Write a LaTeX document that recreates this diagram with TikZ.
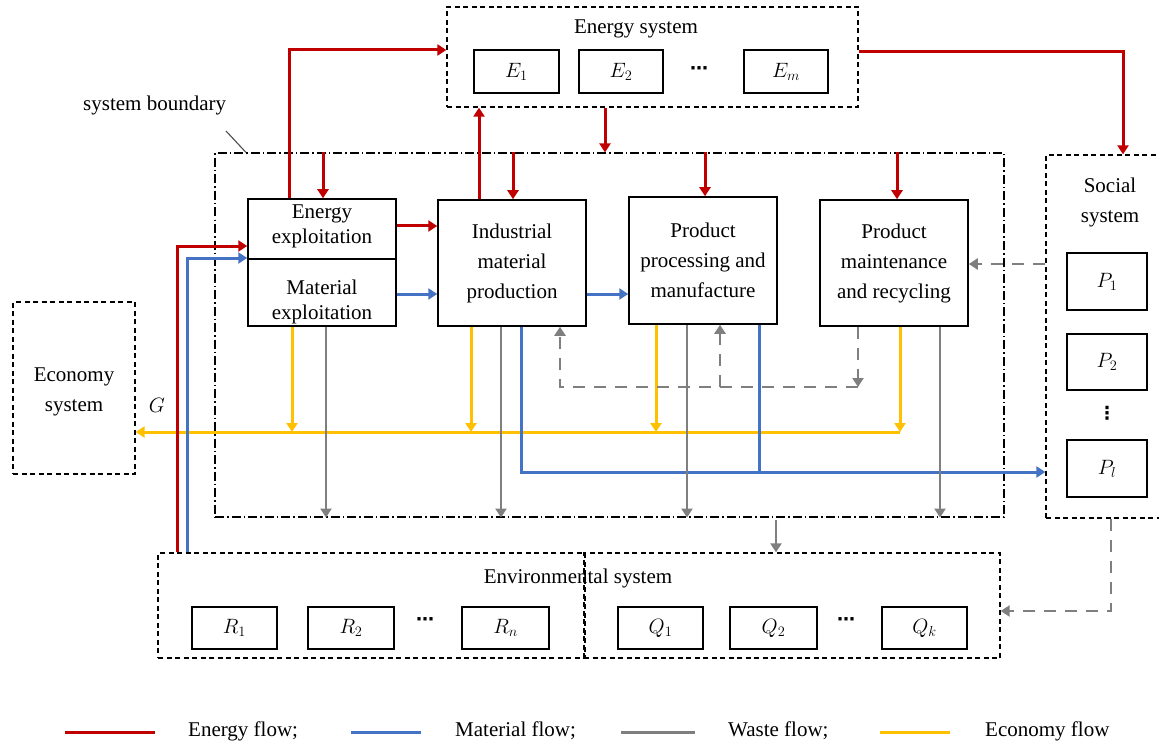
\documentclass[tikz,border=0pt]{standalone}
\usepackage{fontspec}
\setmainfont{Liberation Serif}
\newfontfamily\dejavu{DejaVu Sans}
\usetikzlibrary{arrows.meta}
\definecolor{ered}{HTML}{C00000}
\definecolor{eblue}{HTML}{4472C4}
\definecolor{egray}{HTML}{7F7F7F}
\definecolor{eyel}{HTML}{FFC000}
\begin{document}
\begin{tikzpicture}[x=1pt,y=-1pt,
  txt/.style={font=\fontsize{21}{30}\selectfont, align=center, inner sep=0pt},
  dots/.style={font=\dejavu\bfseries\fontsize{18}{20}\selectfont, inner sep=0pt},
  box/.style={draw, line width=1.5pt, inner sep=0pt},
  dbox/.style={draw, line width=1.3pt, dash pattern=on 5pt off 3.5pt, inner sep=0pt},
  bound/.style={draw, line width=1.1pt, dash pattern=on 9pt off 3pt on 1.5pt off 3pt, inner sep=0pt},
  tip/.style={-{Triangle[length=9pt,width=11pt]}},
  redf/.style={draw=ered, line width=3pt},
  bluef/.style={draw=eblue, line width=3pt},
  grayf/.style={draw=egray, line width=2.7pt},
  yelf/.style={draw=eyel, line width=3pt},
  grayd/.style={draw=egray, line width=2.8pt, dash pattern=on 12pt off 9pt},
  mathbox/.style={box, font=\fontsize{21}{25}\selectfont, minimum height=43pt},
]
\useasboundingbox (0,0) rectangle (1159,746);

% ---------------- Energy system ----------------
\node[dbox, minimum width=411pt, minimum height=100pt] (es) at (652.5,57) {};
\node[txt] (estitle) at (636,29) {Energy system};
\node[mathbox, minimum width=85pt] (e1) at (516.5,71.5) {$E_1$};
\node[mathbox, minimum width=84pt] (e2) at (621,71.5) {$E_2$};
\node[dots] (edots) at (699,71) {⋯};
\node[mathbox, minimum width=84pt] (em) at (786,71.5) {$E_m$};

% ---------------- System boundary ----------------
\node[bound, minimum width=789pt, minimum height=364pt] (sb) at (609.5,335) {};
\node[txt, anchor=west] (sblabel) at (83,105) {system boundary};
\coordinate (lead) at (226,131);
\draw[line width=1.1pt, draw=black!70] (lead) -- (sb.north -| 246,0);

% ---------------- Process boxes ----------------
\node[box, minimum width=148pt, minimum height=127pt] (ee) at (322,262.5) {};
\draw[line width=1.5pt] (ee.west |- 0,259) -- (ee.east |- 0,259);
\node[txt, font=\fontsize{21}{25}\selectfont] (eet) at (322,226) {Energy\\exploitation};
\node[txt, font=\fontsize{21}{25}\selectfont] (met) at (322,302) {Material\\exploitation};

\node[box, minimum width=148pt, minimum height=126pt, txt] (ind) at (512,263) {Industrial\\material\\production};
\node[box, minimum width=148pt, minimum height=127pt, txt] (ppm) at (703,260.5) {Product\\processing and\\manufacture};
\node[box, minimum width=148pt, minimum height=126pt, txt] (pmr) at (894,263) {Product\\maintenance\\and recycling};

% ---------------- Economy system ----------------
\node[dbox, minimum width=122pt, minimum height=172pt] (eco) at (74,388) {};
\node[txt] (ecot) at (74,392) {Economy\\system};
\node[font=\fontsize{20}{24}\selectfont, inner sep=0pt] (glab) at (157,405) {$G$};

% ---------------- Social system ----------------
\node[dbox, minimum width=124pt, minimum height=363pt] (soc) at (1108,336.5) {};
\node[txt] (soct) at (1110,202) {Social\\system};
\node[mathbox, minimum width=80pt, minimum height=57pt] (p1) at (1107,281.5) {$P_1$};
\node[mathbox, minimum width=80pt, minimum height=56pt] (p2) at (1107,362) {$P_2$};
\node[dots] (pdots) at (1107,413) {⋮};
\node[mathbox, minimum width=80pt, minimum height=57pt] (pl) at (1107,468.5) {$P_l$};

% ---------------- Environmental system ----------------
\node[dbox, minimum width=427pt, minimum height=105pt] (envL) at (371.5,605.5) {};
\node[dbox, minimum width=416pt, minimum height=105pt] (envR) at (792,605.5) {};
\node[txt] (envt) at (578,578) {Environmental system};
\node[mathbox, minimum width=85pt, minimum height=42pt] (r1) at (234.5,628) {$R_1$};
\node[mathbox, minimum width=86pt, minimum height=42pt] (r2) at (351,628) {$R_2$};
\node[dots] (rdots) at (425,622) {⋯};
\node[mathbox, minimum width=87pt, minimum height=42pt] (rn) at (505.5,628) {$R_n$};
\node[mathbox, minimum width=85pt, minimum height=42pt] (q1) at (660.5,628) {$Q_1$};
\node[mathbox, minimum width=87pt, minimum height=42pt] (q2) at (773.5,628) {$Q_2$};
\node[dots] (qdots) at (846,622) {⋯};
\node[mathbox, minimum width=85pt, minimum height=42pt] (qk) at (924.5,628) {$Q_k$};

% ---------------- Economy flows (yellow) ----------------
\coordinate (yend) at (900,432);
\draw[yelf, tip] (yend) -- (eco.east |- yend);
\draw[yelf, tip] (ee.south -| 292,0) -- (292,432);
\draw[yelf, tip] (ind.south -| 471,0) -- (471,432);
\draw[yelf, tip] (ppm.south -| 656,0) -- (656,432);
\draw[yelf, tip] (pmr.south -| 900,0) -- (yend);

% ---------------- Material flows (blue) ----------------
\draw[bluef, tip] (envL.north -| 187,0) |- (ee.west |- 0,258);
\draw[bluef, tip] (ee.east |- 0,294) -- (ind.west |- 0,294);
\draw[bluef, tip] (ind.east |- 0,294) -- (ppm.west |- 0,294);
\draw[bluef, tip] (ind.south -| 521,0) |- (soc.west |- 0,472);
\coordinate (bj) at (759,472);
\draw[bluef] (ppm.south -| bj) -- (bj);

% ---------------- Waste flows (gray) ----------------
\draw[grayf, tip] (ee.south -| 326,0) -- (sb.south -| 326,0);
\draw[grayf, tip] (ind.south -| 501,0) -- (sb.south -| 501,0);
\draw[grayf, tip] (ppm.south -| 687,0) -- (sb.south -| 687,0);
\draw[grayf, tip] (pmr.south -| 940,0) -- (sb.south -| 940,0);
\draw[grayf, tip] ([yshift=-2pt]sb.south -| 776,0) -- (envR.north -| 776,0);

% gray dashed
\coordinate (dr) at (858,387);
\coordinate (dm) at (720,387);
\draw[grayd, tip] (pmr.south -| dr) -- (dr);
\draw[grayd, tip] (dr) -| (ind.south -| 560,0);
\draw[grayd, tip] (dm) -- (ppm.south -| dm);
\draw[grayd, tip] (soc.west |- 0,264) -- (pmr.east |- 0,264);
\draw[grayd, tip] (soc.south -| 1111,0) |- (envR.east |- 0,611);

% ---------------- Energy flows (red) ----------------
\draw[redf, tip] (envL.north -| 177,0) |- (ee.west |- 0,246);
\draw[redf, tip] (ee.north -| 289,0) |- (es.west |- 0,50);
\draw[redf, tip] (ind.north -| 479,0) -- (es.south -| 479,0);
\draw[redf, tip] (es.south -| 605,0) -- (sb.north -| 605,0);
\draw[redf, tip] (sb.north -| 323,0) -- (ee.north -| 323,0);
\draw[redf, tip] (sb.north -| 513,0) -- (ind.north -| 513,0);
\draw[redf, tip] (sb.north -| 705,0) -- (ppm.north -| 705,0);
\draw[redf, tip] (sb.north -| 897,0) -- (pmr.north -| 897,0);
\draw[redf, tip] (es.east |- 0,52) -| (soc.north -| 1123,0);
\draw[redf, tip] (ee.east |- 0,226) -- (ind.west |- 0,226);

% ---------------- Legend ----------------
\coordinate (l1a) at (65,732); \coordinate (l1b) at (155,732);
\coordinate (l2a) at (351,732); \coordinate (l2b) at (421,732);
\coordinate (l3a) at (621,732); \coordinate (l3b) at (695,732);
\coordinate (l4a) at (880,732); \coordinate (l4b) at (950,732);
\draw[redf] (l1a) -- (l1b);
\draw[bluef] (l2a) -- (l2b);
\draw[grayf, line width=3pt] (l3a) -- (l3b);
\draw[yelf] (l4a) -- (l4b);
\node[txt, anchor=west] (lt1) at (188,731) {Energy flow;};
\node[txt, anchor=west] (lt2) at (455,731) {Material flow;};
\node[txt, anchor=west] (lt3) at (728,731) {Waste flow;};
\node[txt, anchor=west] (lt4) at (985,731) {Economy flow};
\end{tikzpicture}
\end{document}
